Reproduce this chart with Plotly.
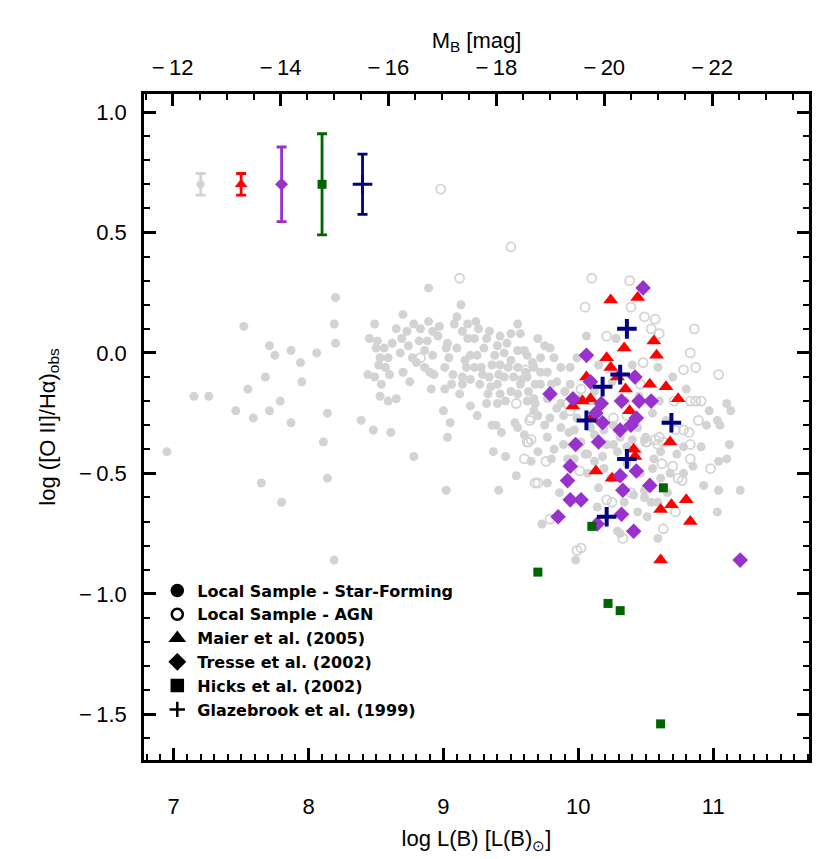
import plotly.graph_objects as go

# local sample, star-forming (filled grey)
sf_logl = [
    8.20, 7.52, 8.19, 8.20, 7.71, 7.75, 7.87, 7.94, 8.06, 7.68, 7.55, 7.95, 7.15, 7.26,
    7.46, 7.59, 7.71, 7.79, 7.87, 8.14, 8.11, 6.95, 7.65, 8.14, 7.80, 8.19, 8.39, 8.48,
    8.61, 8.78, 9.02, 9.41, 9.54, 9.00, 9.05, 9.03, 9.20, 9.25, 9.32, 9.37, 9.46, 9.36,
    9.39, 9.43, 9.53, 9.55, 9.60, 8.89, 9.13, 8.49, 8.70, 8.44, 8.49, 8.54, 8.53, 8.59,
    8.65, 8.70,
    8.51, 8.50, 8.56, 8.53, 8.59, 8.52, 8.57, 8.65, 8.73, 8.69, 8.74, 8.68, 8.77, 8.89,
    8.83, 8.92, 8.82, 8.88, 8.86, 8.92, 8.86, 8.90, 8.93, 8.91, 9.03, 9.02, 9.04, 9.01,
    9.01, 9.06, 9.14, 9.12, 9.08, 9.14, 9.18, 9.24, 9.26, 9.34, 9.32, 9.23, 9.18, 9.20,
    9.25, 9.17, 9.23, 9.28, 9.14, 9.20, 9.29, 9.34, 9.40, 9.38, 9.45, 9.36, 9.42, 9.50,
    9.55, 9.60, 9.55, 9.61, 9.66, 9.41, 9.45, 9.52, 9.57, 9.40, 9.42, 9.50, 9.55, 9.63,
    9.68, 9.55, 9.57, 9.50, 9.42, 9.35, 9.40, 9.68, 9.70, 9.65,
    8.45, 8.62, 8.80, 8.96, 9.10, 9.16, 9.30, 9.47, 9.62, 9.48, 9.58, 9.27, 9.33, 9.46,
    9.62, 9.10, 8.97, 8.78, 8.60, 8.75, 9.07, 9.72, 9.80, 9.90, 9.84, 9.93, 9.75, 9.80,
    9.92, 10.18, 10.40, 10.55, 10.66, 10.85, 10.95, 10.97, 10.70, 10.80,
    10.06, 10.28, 11.10, 11.13, 11.03, 11.05, 10.59, 9.99, 9.70, 9.75, 9.79, 9.72, 9.82,
    9.67, 9.77, 9.87, 9.94, 9.62, 9.72, 9.84, 9.94, 9.67, 9.77, 9.87, 10.02, 10.09, 9.67,
    9.79, 9.89, 9.99, 9.87, 9.97, 10.09, 10.19, 10.26, 9.77, 9.89, 10.02, 10.12, 10.21,
    10.31, 10.44, 10.49, 9.70, 9.82, 10.07, 10.29, 10.44, 10.61, 10.73, 11.12, 11.04,
    11.10, 10.93, 11.04, 11.20, 11.03, 9.73, 9.98, 10.59, 10.31, 10.44, 10.51, 10.49,
    10.54, 10.34, 10.14, 9.86, 9.77, 9.97, 10.05, 10.12, 10.19, 10.07, 10.15, 10.24,
    10.36, 10.46, 10.56, 10.61, 10.68, 10.41, 10.49, 10.59, 10.26, 10.36, 10.78, 10.91,
    10.78, 10.29, 10.15, 10.25, 10.40, 10.45, 10.55, 10.65, 10.60, 10.12, 10.35, 10.50,
]
sf_ratio = [
    0.23, 0.11, 0.12, 0.04, 0.03, -0.01, 0.01, -0.04, 0.00, -0.10, -0.15, -0.12, -0.18, -0.18,
    -0.24, -0.27, -0.24, -0.20, -0.29, -0.25, -0.37, -0.41, -0.54, -0.52, -0.62, -0.86, -0.28, -0.32,
    -0.33, -0.43, -0.57, -0.57, -0.51, -0.24, -0.29, -0.35, -0.22, -0.26, -0.21, -0.41, -0.43, -0.30,
    -0.30, -0.33, -0.29, -0.31, -0.34, 0.27, 0.20, 0.12, 0.16, -0.09, -0.10, -0.13, -0.18, -0.20,
    -0.19, -0.08,
    0.05, 0.02, 0.02, -0.02, -0.02, -0.05, -0.06, 0.10, 0.09, 0.06, 0.03, 0.00, -0.02, 0.13,
    0.10, 0.09, 0.05, 0.05, 0.01, -0.01, -0.06, -0.08, -0.09, -0.15, 0.04, 0.02, -0.02, -0.06,
    -0.15, -0.13, -0.13, -0.17, 0.12, 0.09, 0.12, 0.13, 0.10, 0.09, 0.06, 0.06, 0.06, -0.01,
    -0.01, -0.06, -0.06, -0.06, -0.10, -0.11, -0.09, -0.10, 0.03, -0.01, 0.00, -0.05, -0.05, -0.03,
    0.01, 0.01, -0.06, -0.08, -0.04, -0.09, -0.10, -0.10, -0.13, -0.13, -0.17, -0.16, -0.17, -0.16,
    -0.13, 0.12, 0.08, 0.08, 0.07, -0.14, -0.21, -0.21, -0.26, -0.45,
    0.06, 0.04, -0.04, 0.07, 0.02, -0.03, 0.02, 0.04, -0.01, -0.06, -0.11, -0.13, -0.17, -0.20,
    -0.20, 0.15, 0.11, 0.12, -0.09, -0.12, -0.09, -0.08, -0.13, -0.16, -0.23, -0.33, -0.30, -0.44,
    -0.44, -0.43, -0.36, -0.48, -0.58, -0.47, -0.30, -0.24, -0.10, -0.15,
    0.07, 0.06, -0.21, -0.24, -0.28, -0.30, -0.06, -0.02, 0.06, 0.03, 0.02, -0.02, -0.02,
    -0.06, -0.08, -0.06, -0.06, -0.10, -0.13, -0.12, -0.13, -0.19, -0.19, -0.21, -0.19, -0.20, -0.24,
    -0.27, -0.26, -0.27, -0.31, -0.32, -0.31, -0.32, -0.30, -0.35, -0.38, -0.37, -0.34, -0.38,
    -0.35, -0.31, -0.36, -0.41, -0.40, -0.42, -0.41, -0.41, -0.41, -0.42, -0.38, -0.45,
    -0.44, -0.55, -0.57, -0.57, -0.66, -0.71, -0.86, -0.77, -0.75, -0.66, -0.68, -0.60,
    -0.62, -0.62, -0.64, -0.58, -0.54, -0.44, -0.42, -0.45, -0.48, -0.50, -0.56, -0.52,
    -0.46, -0.50, -0.44, -0.52, -0.50, -0.59, -0.57, -0.62, -0.38, -0.39, -0.39, -0.39,
    -0.50, -0.74, -0.05, -0.12, -0.05, -0.18, -0.25, -0.28, -0.20, -0.16, -0.20, -0.35,
]

# local sample, AGN (open grey)
agn_logl = [
    8.98, 9.50, 9.12, 8.83, 9.61, 9.54, 9.64, 9.63, 9.60, 9.68, 10.10, 10.38, 10.05, 10.39,
    10.49, 10.57, 10.54, 10.60, 10.86, 10.21, 10.83, 10.48, 10.78, 10.87, 11.04, 10.46, 10.71,
    10.83, 10.87, 10.91, 10.89, 10.78, 10.82, 10.72, 10.60, 10.63, 10.51, 10.57, 9.92, 10.02,
    9.94, 9.65, 10.36, 10.26, 9.65, 10.83, 9.76, 9.70, 10.01, 10.21, 10.25, 9.79, 9.99, 10.02,
    10.33, 10.63, 10.72, 10.62, 10.70, 10.83, 10.98, 10.50, 10.59, 10.74, 10.77, 10.39, 9.62,
]
agn_ratio = [
    0.68, 0.44, 0.31, -0.02, -0.07, -0.21, -0.28, -0.37, -0.44, -0.54, 0.31, 0.30, 0.19, 0.19,
    0.15, 0.14, 0.10, 0.08, 0.10, 0.07, 0.00, -0.04, -0.07, -0.06, -0.09, -0.13, -0.20,
    -0.20, -0.20, -0.20, -0.28, -0.32, -0.33, -0.32, -0.35, -0.37, -0.37, -0.36, -0.21, -0.15,
    -0.24, -0.27, -0.26, -0.27, -0.36, -0.38, -0.45, -0.54, -0.49, -0.61, -0.62, -0.69, -0.82, -0.81,
    -0.77, -0.73, -0.66, -0.46, -0.47, -0.44, -0.48, -0.37, -0.38, -0.52, -0.53, -0.58, -0.37,
]

maier_logl = [
    10.24, 10.44, 10.56, 10.34, 10.58, 10.21, 10.24, 10.06, 10.29, 10.35, 10.53, 10.65, 10.74,
    10.03, 9.96, 10.09, 10.38, 10.10, 10.68, 10.41, 10.42, 10.13, 10.25, 10.80, 10.69, 10.61,
    10.83, 10.61,
]
maier_ratio = [
    0.22, 0.23, 0.05, 0.02, -0.01, -0.02, -0.06, -0.10, -0.10, -0.15, -0.13, -0.14, -0.19,
    -0.20, -0.22, -0.19, -0.24, -0.27, -0.37, -0.40, -0.43, -0.49, -0.52, -0.61, -0.63, -0.65,
    -0.70, -0.86,
]

tresse_logl = [
    10.48, 10.06, 9.79, 10.09, 10.42, 9.96, 10.17, 10.32, 10.45, 10.54, 10.13, 10.18, 10.43,
    10.39, 10.31, 9.98, 10.15, 9.94, 9.92, 10.43, 10.31, 10.33, 10.53, 9.94, 10.02, 9.85,
    10.32, 10.14, 10.41, 11.20,
]
tresse_ratio = [
    0.27, -0.01, -0.17, -0.12, -0.10, -0.19, -0.21, -0.20, -0.20, -0.20, -0.25, -0.29, -0.27,
    -0.30, -0.32, -0.38, -0.37, -0.47, -0.53, -0.49, -0.51, -0.57, -0.55, -0.61, -0.61, -0.68,
    -0.67, -0.71, -0.74, -0.86,
]

hicks_logl = [10.63, 10.10, 9.70, 10.22, 10.31, 10.61]
hicks_ratio = [-0.56, -0.72, -0.91, -1.04, -1.07, -1.54]

glaze_logl = [10.36, 10.31, 10.18, 10.06, 10.69, 10.36, 10.21]
glaze_ratio = [0.10, -0.09, -0.14, -0.28, -0.29, -0.44, -0.68]

# typical error bars drawn at the top left
err_logl = [7.2, 7.5, 7.8, 8.1, 8.4]
err_ratio = [0.70, 0.70, 0.70, 0.70, 0.70]
err_size = [0.045, 0.045, 0.155, 0.21, 0.125]

# tick labels (IDL style: gap after the minus sign)
y_tickvals = [-1.5, -1.0, -0.5, 0.0, 0.5, 1.0]
y_ticktext = ["\u2212\u20091.5", "\u2212\u20091.0", "\u2212\u20090.5", "0.0", "0.5", "1.0"]
x_tickvals = [7, 8, 9, 10, 11]
x_ticktext = ["7", "8", "9", "10", "11"]
mag_tickvals = [-12, -14, -16, -18, -20, -22]
mag_ticktext = ["\u2212\u200912", "\u2212\u200914", "\u2212\u200916",
                "\u2212\u200918", "\u2212\u200920", "\u2212\u200922"]

GREY = "#d3d3d3"
RED = "#ff0000"
PURPLE = "#9932cc"
GREEN = "#006400"
NAVY = "#000080"

X_RANGE = [6.78, 11.71]
Y_RANGE = [-1.69, 1.075]
M_SUN_B = 5.48
mag_range = [M_SUN_B - 2.5 * X_RANGE[0], M_SUN_B - 2.5 * X_RANGE[1]]

FONT = "Liberation Sans"

fig = go.Figure()

fig.add_trace(go.Scatter(
    x=sf_logl, y=sf_ratio, mode="markers", showlegend=False,
    marker=dict(symbol="circle", size=9, color=GREY, line=dict(width=0)),
))
fig.add_trace(go.Scatter(
    x=agn_logl, y=agn_ratio, mode="markers", showlegend=False,
    marker=dict(symbol="circle-open", size=9, color=GREY, line=dict(width=1.8, color=GREY)),
))
fig.add_trace(go.Scatter(
    x=maier_logl, y=maier_ratio, mode="markers", showlegend=False,
    marker=dict(symbol="triangle-up", size=13, color=RED, line=dict(width=0)),
))
fig.add_trace(go.Scatter(
    x=tresse_logl, y=tresse_ratio, mode="markers", showlegend=False,
    marker=dict(symbol="diamond", size=12, color=PURPLE, line=dict(width=0)),
))
fig.add_trace(go.Scatter(
    x=hicks_logl, y=hicks_ratio, mode="markers", showlegend=False,
    marker=dict(symbol="square", size=9, color=GREEN, line=dict(width=0)),
))
fig.add_trace(go.Scatter(
    x=glaze_logl, y=glaze_ratio, mode="markers", showlegend=False,
    marker=dict(symbol="cross-thin", size=14, color=NAVY, line=dict(width=4, color=NAVY)),
))

# representative error bars
err_symbols = ["circle", "triangle-up", "diamond", "square", "cross-thin"]
err_colors = [GREY, RED, PURPLE, GREEN, NAVY]
err_msize = [8, 11, 10, 9, 14]
for i in range(len(err_logl)):
    fig.add_trace(go.Scatter(
        x=[err_logl[i]], y=[err_ratio[i]], mode="markers", showlegend=False,
        marker=dict(symbol=err_symbols[i], size=err_msize[i], color=err_colors[i],
                    line=dict(width=3 if i == 4 else 0, color=err_colors[i])),
        error_y=dict(type="constant", value=err_size[i], color=err_colors[i],
                     thickness=2.8, width=5),
    ))

# legend entries with black symbols
legend_items = [
    ("Local Sample - Star-Forming", "circle"),
    ("Local Sample - AGN", "circle-open"),
    ("Maier et al. (2005)", "triangle-up"),
    ("Tresse et al. (2002)", "diamond"),
    ("Hicks et al. (2002)", "square"),
    ("Glazebrook et al. (1999)", "cross-thin"),
]
for name, sym in legend_items:
    fig.add_trace(go.Scatter(
        x=[None], y=[None], mode="markers", name=name,
        marker=dict(symbol=sym, size=11, color="black", line=dict(width=2.5, color="black")),
    ))

# dummy trace so the magnitude axis is drawn
fig.add_trace(go.Scatter(x=[None], y=[None], xaxis="x2", showlegend=False, hoverinfo="skip"))

fig.update_layout(
    width=830, height=859,
    margin=dict(l=136, r=29, t=86, b=107),
    paper_bgcolor="white", plot_bgcolor="white",
    font=dict(family=FONT, size=22, color="black"),
    showlegend=True,
    legend=dict(
        x=0.02, y=0.28, xanchor="left", yanchor="top",
        bgcolor="rgba(0,0,0,0)", borderwidth=0,
        font=dict(family="DejaVu Sans", size=16, color="black", weight="bold"),
        itemwidth=30, tracegroupgap=0,
    ),
    xaxis=dict(
        range=X_RANGE, showgrid=False, zeroline=False,
        showline=True, linecolor="black", linewidth=2.5,
        ticks="inside", ticklen=12, tickwidth=2.5, tickcolor="black",
        tickmode="array", tickvals=x_tickvals, ticktext=x_ticktext, ticklabelstandoff=25,
        minor=dict(ticks="inside", ticklen=6, tickwidth=1.5, tickcolor="black",
                   tickmode="linear", tick0=7, dtick=0.1),
        title=dict(text="log L(B) [L(B)<sub>⊙</sub>]", font=dict(size=22), standoff=13),
    ),
    xaxis2=dict(
        overlaying="x", side="top", anchor="y",
        range=mag_range, showgrid=False, zeroline=False,
        showline=True, linecolor="black", linewidth=2.5,
        ticks="inside", ticklen=12, tickwidth=2.5, tickcolor="black",
        tickmode="array", tickvals=mag_tickvals, ticktext=mag_ticktext, ticklabelstandoff=7,
        minor=dict(ticks="inside", ticklen=6, tickwidth=1.5, tickcolor="black",
                   tickmode="linear", tick0=-12, dtick=0.5),
        title=dict(text="M<sub>B</sub> [mag]", font=dict(size=22), standoff=0),
    ),
    yaxis=dict(
        range=Y_RANGE, showgrid=False, zeroline=False,
        showline=True, mirror="ticks", linecolor="black", linewidth=2.5,
        ticks="inside", ticklen=12, tickwidth=2.5, tickcolor="black",
        tickmode="array", tickvals=y_tickvals, ticktext=y_ticktext, ticklabelstandoff=10,
        minor=dict(ticks="inside", ticklen=6, tickwidth=1.5, tickcolor="black",
                   tickmode="linear", tick0=0, dtick=0.1),
        title=dict(text="log ([O II]/Hα)<sub>obs</sub>", font=dict(size=22), standoff=18),
    ),
)

fig.write_html("out.html")
